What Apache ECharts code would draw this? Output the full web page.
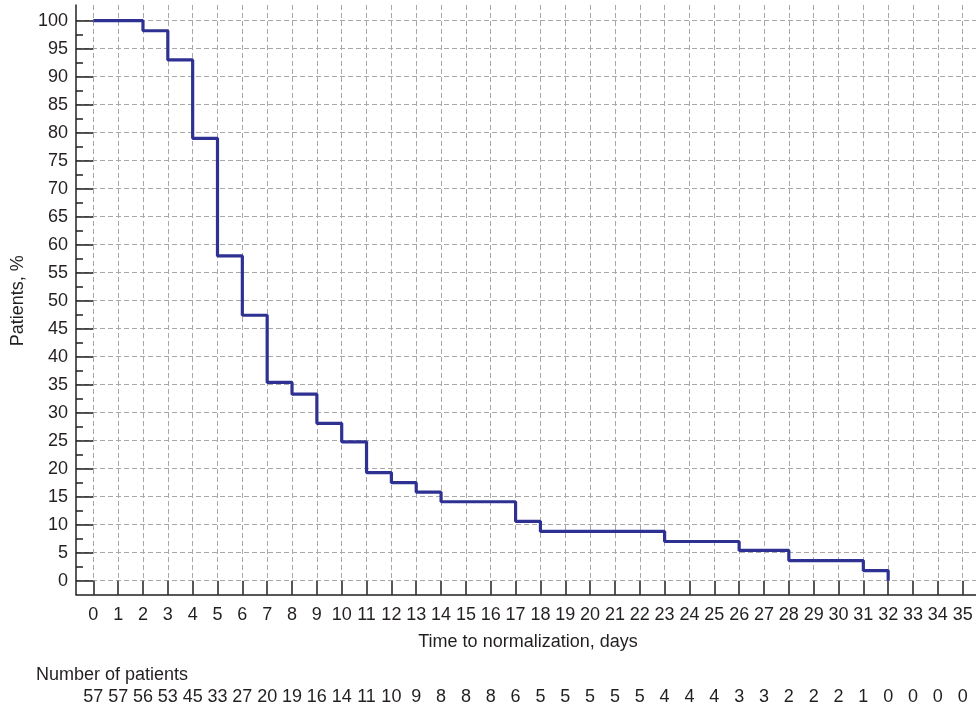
<!DOCTYPE html>
<html>
<head>
<meta charset="utf-8">
<script src="https://cdn.jsdelivr.net/npm/echarts@6/dist/echarts.min.js"></script>
<style>
  html, body { margin: 0; padding: 0; background: #ffffff; }
  #chart { width: 976px; height: 709px; }
</style>
</head>
<body>
<div id="chart"></div>
<script>
// ---- data ----
var stepDays = [0, 2, 3, 4, 5, 6, 7, 8, 9, 10, 11, 12, 13, 14, 17, 18, 23, 26, 28, 31, 32];
var stepPercent = [100, 98.2, 93.0, 79.0, 58.0, 47.4, 35.4, 33.3, 28.1, 24.8, 19.3, 17.5, 15.8, 14.1, 10.6, 8.8, 7.0, 5.4, 3.6, 1.8, 0];
var atRisk = [57, 57, 56, 53, 45, 33, 27, 20, 19, 16, 14, 11, 10, 9, 8, 8, 8, 6, 5, 5, 5, 5, 5, 4, 4, 4, 3, 3, 2, 2, 2, 1, 0, 0, 0, 0];
var xTitle = 'Time to normalization, days';
var yTitle = 'Patients, %';
var riskTitle = 'Number of patients';

var FONT = "'Liberation Sans', Arial, Helvetica, sans-serif";
var TXT = '#231f20';
var GRIDC = '#a8a8a8';
var FS = 18;

var seriesData = stepDays.map(function (d, i) { return [d, stepPercent[i]]; });

var chart = echarts.init(document.getElementById('chart'), null, { renderer: 'canvas' });
chart.setOption({
  backgroundColor: '#ffffff',
  animation: false,
  textStyle: { fontFamily: FONT },
  title: {
    text: riskTitle, left: 31, top: 661,
    textStyle: { fontFamily: FONT, fontSize: FS, fontWeight: 'normal', color: TXT }
  },
  grid: [
    { left: 76, right: 0, top: 5, bottom: 114.5 },          // frame (axis lines)
    { left: 76, right: 0, top: 20.7, bottom: 128.3 },       // y scale + horizontal grid
    { left: 93.3, right: 13.3, top: 5, bottom: 128.3 }      // x scale + vertical grid + data
  ],
  xAxis: [
    { gridIndex: 0, type: 'value', min: 0, max: 1,
      axisLine: { show: true, lineStyle: { color: TXT, width: 1.5 } },
      axisTick: { show: false }, axisLabel: { show: false }, splitLine: { show: false } },
    { gridIndex: 1, type: 'value', min: 0, max: 1, show: false },
    { gridIndex: 2, type: 'value', min: 0, max: 35, interval: 1,
      name: xTitle, nameLocation: 'middle', nameGap: 52,
      nameTextStyle: { fontFamily: FONT, fontSize: FS, color: TXT },
      axisLine: { show: false },
      axisTick: { show: true, inside: false, length: 14, lineStyle: { color: TXT, width: 1.5 } },
      axisLabel: { show: true, margin: 25, fontFamily: FONT, fontSize: FS, color: TXT },
      splitLine: { show: true, lineStyle: { color: GRIDC, width: 1, type: [5, 3] } } },
    { gridIndex: 2, type: 'value', min: 0, max: 35, interval: 1, position: 'bottom', offset: 100,
      axisLine: { show: false }, axisTick: { show: false }, splitLine: { show: false },
      axisLabel: { show: true, margin: 7, fontFamily: FONT, fontSize: FS, color: TXT,
        formatter: function (v) { var i = Math.round(v); return (i >= 0 && i < atRisk.length) ? String(atRisk[i]) : ''; } } }
  ],
  yAxis: [
    { gridIndex: 0, type: 'value', min: 0, max: 1,
      axisLine: { show: true, lineStyle: { color: TXT, width: 1.5 } },
      axisTick: { show: false }, axisLabel: { show: false }, splitLine: { show: false } },
    { gridIndex: 1, type: 'value', min: 0, max: 100, interval: 5,
      name: yTitle, nameLocation: 'middle', nameGap: 42, nameRotate: 90,
      nameTextStyle: { fontFamily: FONT, fontSize: FS, color: TXT },
      axisLine: { show: false },
      axisTick: { show: true, inside: true, length: 17, lineStyle: { color: TXT, width: 1.5 } },
      minorTick: { show: true, splitNumber: 2, length: 7, lineStyle: { color: TXT, width: 1.5 } },
      axisLabel: { show: true, margin: 8, fontFamily: FONT, fontSize: FS, color: TXT },
      splitLine: { show: true, lineStyle: { color: GRIDC, width: 1, type: [5, 3] } } },
    { gridIndex: 2, type: 'value', min: 0, max: 102.8, show: false }
  ],
  series: [
    { type: 'line', xAxisIndex: 2, yAxisIndex: 2, data: seriesData, step: 'end',
      showSymbol: false, symbol: 'none',
      lineStyle: { color: '#2e3192', width: 3.2 }, z: 5 }
  ]
});
</script>
</body>
</html>
